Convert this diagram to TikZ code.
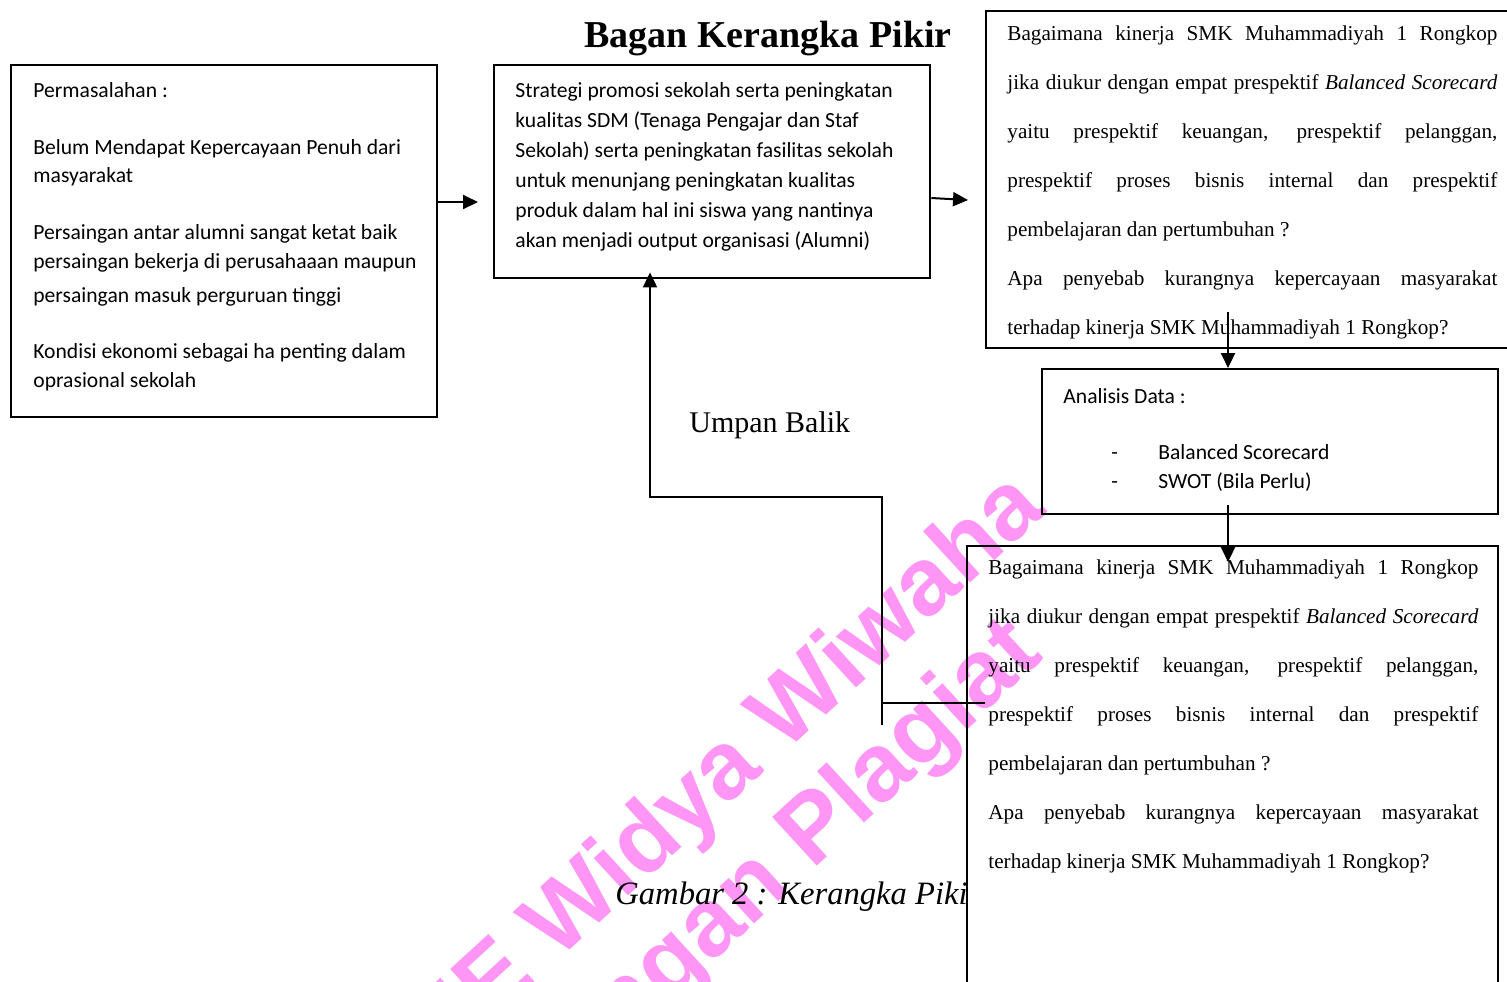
\documentclass[tikz,border=0pt]{standalone}
\usepackage{fontspec}
\setmainfont{Liberation Serif}
\newfontfamily\calibri{Carlito}
\newfontfamily\wmfont{Liberation Sans}
\usetikzlibrary{arrows.meta,positioning}
\definecolor{wmpink}{RGB}{255,150,245}
\setlength{\parindent}{0pt}
\setlength{\parskip}{0pt}

\tikzset{
  box/.style={draw, line width=1.2pt, fill=white, inner sep=0pt, anchor=north west},
  con/.style={line width=1pt, -{Triangle[length=7.5pt,width=7pt]}},
  plain/.style={line width=1pt},
  cali/.style={font=\calibri\fontsize{10.8}{14.25}\selectfont, align=left, inner sep=0pt},
  tms/.style={font=\fontsize{10.6}{24.5}\selectfont, inner sep=0pt, text width=245pt, align=justify},
  wm/.style={font=\wmfont\bfseries\fontsize{48}{58}\selectfont, text=wmpink, rotate=42.5, inner sep=0pt, anchor=base east}
}

\begin{document}
\begin{tikzpicture}[x=0.5pt, y=-0.5pt]
  \clip (0,0) rectangle (1507,981);

  % Judul dan keterangan
  \node[font=\bfseries\fontsize{19}{21}\selectfont, inner sep=0pt, anchor=base] (judul) at (768,47) {Bagan Kerangka Pikir};
  \node[font=\fontsize{15}{17}\selectfont, inner sep=0pt, anchor=base west] (umpan) at (689,432) {Umpan Balik};
  \node[font=\itshape\fontsize{16.3}{18}\selectfont, inner sep=0pt, anchor=base west] (gambar) at (615,904) {Gambar 2 : Kerangka Pikir};

  % Kotak
  \node[box, minimum width=213pt, minimum height=176pt] (masalah) at (10,64) {};
  \node[box, minimum width=218pt, minimum height=106.5pt] (strategi) at (493,64) {};
  \node[box, minimum width=267.5pt, minimum height=168.5pt] (rumusan) at (985,10) {};
  \node[box, minimum width=228pt, minimum height=72.5pt] (analisis) at (1041,368) {};
  \node[box, minimum width=265.5pt, minimum height=227.5pt] (hasil) at (966,545) {};

  % Isi kotak
  \node[cali, below right=9pt and 11.5pt of masalah.north west] (masalahtxt)
    {Permasalahan :\\[14.25pt]
     Belum Mendapat Kepercayaan Penuh dari\\
     masyarakat\\[14.25pt]
     Persaingan antar alumni sangat ketat baik\\
     persaingan bekerja di perusahaaan maupun\\[2.75pt]
     persaingan masuk perguruan tinggi\\[14pt]
     Kondisi ekonomi sebagai ha penting dalam\\
     oprasional sekolah};
  \node[cali, font=\calibri\fontsize{10.8}{15}\selectfont, below right=9pt and 11pt of strategi.north west] (strategitxt)
    {Strategi promosi sekolah serta peningkatan\\
     kualitas SDM (Tenaga Pengajar dan Staf\\
     Sekolah) serta peningkatan fasilitas sekolah\\
     untuk menunjang peningkatan kualitas\\
     produk dalam hal ini siswa yang nantinya\\
     akan menjadi output organisasi (Alumni)};
  \node[tms, below right=7.5pt and 11pt of rumusan.north west] (rumusantxt)
    {Bagaimana kinerja SMK Muhammadiyah 1 Rongkop\linebreak
     jika diukur dengan empat prespektif \textit{Balanced Scorecard}\linebreak
     yaitu prespektif keuangan, prespektif pelanggan,\linebreak
     prespektif proses bisnis internal dan prespektif\linebreak
     pembelajaran dan pertumbuhan ?\par
     Apa penyebab kurangnya kepercayaan masyarakat\linebreak
     terhadap kinerja SMK Muhammadiyah 1 Rongkop?};
  \node[cali, below right=10pt and 11pt of analisis.north west] (analisistxt)
    {Analisis Data :\\[14pt]
     \makebox[47.5pt][l]{\hspace*{24pt}-}Balanced Scorecard\\
     \makebox[47.5pt][l]{\hspace*{24pt}-}SWOT (Bila Perlu)};
  \node[tms, below right=7pt and 11pt of hasil.north west] (hasiltxt)
    {Bagaimana kinerja SMK Muhammadiyah 1 Rongkop\linebreak
     jika diukur dengan empat prespektif \textit{Balanced Scorecard}\linebreak
     yaitu prespektif keuangan, prespektif pelanggan,\linebreak
     prespektif proses bisnis internal dan prespektif\linebreak
     pembelajaran dan pertumbuhan ?\par
     Apa penyebab kurangnya kepercayaan masyarakat\linebreak
     terhadap kinerja SMK Muhammadiyah 1 Rongkop?};

  % Panah
  \coordinate (y1) at (0,202);
  \coordinate (y2a) at (0,198);
  \coordinate (y2b) at (0,201);
  \coordinate (a3) at (1228,312);
  \coordinate (a4) at (1228,505);
  \coordinate (fbkaki) at (882,725);
  \coordinate (fbbelok) at (650,497);
  \coordinate (fbmasuk) at (985,703);

  \draw[con, shorten >=7.5pt] (masalah.east |- y1) -- (strategi.west |- y1);
  \draw[con, shorten >=8.5pt] (strategi.east |- y2a) -- (rumusan.west |- y2b);
  \draw[con] (a3) -- (analisis.north -| a3);
  \draw[con, shorten >=-8.5pt] (a4) -- (hasil.north -| a4);
  \draw[con, shorten >=-3.5pt] (fbkaki) |- (fbbelok) -- (strategi.south -| fbbelok);
  \draw[plain] (fbmasuk) -- (fbmasuk -| fbkaki);

  % Watermark
  \begin{scope}[blend mode=multiply]
    \node[wm] (wm1) at (1048,512) {STIE Widya Wiwaha};
    \node[wm] (wm2) at (1045,658) {Jangan Plagiat};
  \end{scope}
\end{tikzpicture}
\end{document}
